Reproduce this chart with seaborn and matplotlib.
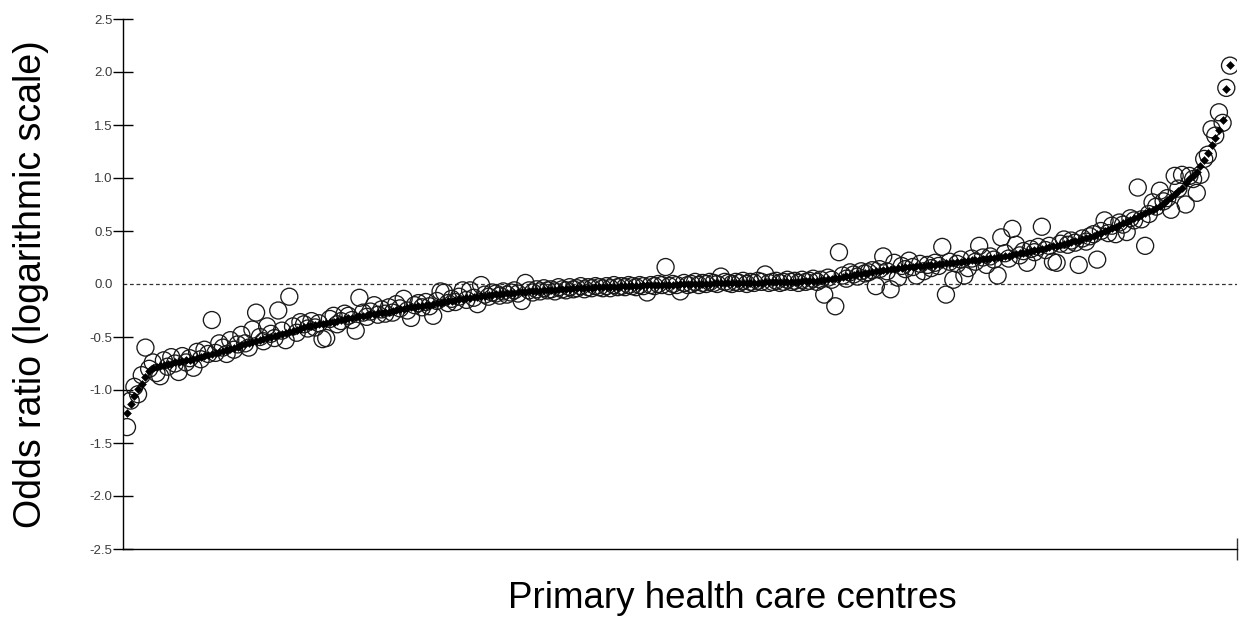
import numpy as np
import pandas as pd
import matplotlib
matplotlib.use("Agg")
import matplotlib.pyplot as plt
import seaborn as sns

# Shrunken (fitted) log odds ratios per centre, sorted
fitted = [
    -1.22, -1.13, -1.06, -0.99, -0.94, -0.88, -0.82, -0.79, -0.78, -0.77,
    -0.76, -0.755, -0.75, -0.74, -0.735, -0.73, -0.72, -0.715, -0.71, -0.70,
    -0.69, -0.68, -0.67, -0.66, -0.65, -0.64, -0.63, -0.62, -0.61, -0.60,
    -0.59, -0.58, -0.57, -0.56, -0.55, -0.54, -0.53, -0.52, -0.51, -0.50,
    -0.49, -0.48, -0.47, -0.46, -0.45, -0.44, -0.43, -0.42, -0.41, -0.40,
    -0.395, -0.39, -0.38, -0.375, -0.37, -0.36, -0.355, -0.35, -0.34, -0.33,
    -0.325, -0.32, -0.31, -0.305, -0.30, -0.29, -0.285, -0.28, -0.275, -0.27,
    -0.265, -0.26, -0.25, -0.245, -0.24, -0.235, -0.23, -0.22, -0.215, -0.21,
    -0.205, -0.20, -0.195, -0.19, -0.18, -0.175, -0.17, -0.165, -0.16, -0.15,
    -0.145, -0.14, -0.135, -0.13, -0.125, -0.12, -0.115, -0.11, -0.105, -0.10,
    -0.097, -0.094, -0.091, -0.088, -0.085, -0.082, -0.079, -0.076, -0.073, -0.07,
    -0.067, -0.065, -0.062, -0.06, -0.057, -0.055, -0.052, -0.05, -0.047, -0.045,
    -0.043, -0.042, -0.040, -0.039, -0.037, -0.036, -0.034, -0.033, -0.031, -0.030,
    -0.028, -0.027, -0.025, -0.024, -0.022, -0.021, -0.019, -0.018, -0.016, -0.015,
    -0.014, -0.013, -0.012, -0.011, -0.010, -0.009, -0.008, -0.007, -0.006, -0.005,
    -0.004, -0.003, -0.002, -0.001, 0.0, 0.001, 0.002, 0.003, 0.004, 0.005,
    0.006, 0.006, 0.007, 0.008, 0.008, 0.009, 0.010, 0.010, 0.011, 0.012,
    0.013, 0.013, 0.014, 0.015, 0.016, 0.016, 0.017, 0.018, 0.019, 0.020,
    0.021, 0.022, 0.023, 0.025, 0.027, 0.029, 0.031, 0.033, 0.036, 0.040,
    0.045, 0.050, 0.055, 0.060, 0.066, 0.072, 0.078, 0.084, 0.090, 0.096,
    0.102, 0.108, 0.114, 0.120, 0.126, 0.131, 0.136, 0.141, 0.146, 0.151,
    0.155, 0.158, 0.161, 0.164, 0.167, 0.170, 0.173, 0.176, 0.179, 0.182,
    0.186, 0.190, 0.194, 0.198, 0.202, 0.206, 0.210, 0.214, 0.218, 0.222,
    0.223, 0.228, 0.233, 0.238, 0.243, 0.248, 0.253, 0.258, 0.263, 0.268,
    0.275, 0.282, 0.289, 0.296, 0.303, 0.310, 0.317, 0.324, 0.331, 0.338,
    0.346, 0.354, 0.362, 0.370, 0.378, 0.386, 0.394, 0.402, 0.410, 0.420,
    0.432, 0.444, 0.456, 0.470, 0.484, 0.498, 0.512, 0.526, 0.540, 0.556,
    0.572, 0.588, 0.604, 0.620, 0.636, 0.652, 0.668, 0.684, 0.700, 0.718,
    0.740, 0.765, 0.79, 0.82, 0.85, 0.88, 0.91, 0.95, 0.99, 1.02,
    1.06, 1.11, 1.17, 1.24, 1.31, 1.38, 1.45, 1.55, 1.84, 2.07,
]

# Observed (crude) log odds ratios per centre, same order
observed = [
    -1.35, -1.10, -0.97, -1.04, -0.86, -0.60, -0.80, -0.74, -0.84, -0.87,
    -0.72, -0.78, -0.69, -0.75, -0.83, -0.68, -0.74, -0.70, -0.79, -0.64,
    -0.71, -0.62, -0.66, -0.34, -0.65, -0.56, -0.60, -0.66, -0.53, -0.62,
    -0.57, -0.48, -0.56, -0.60, -0.43, -0.27, -0.50, -0.54, -0.40, -0.47,
    -0.51, -0.25, -0.44, -0.53, -0.12, -0.40, -0.46, -0.36, -0.38, -0.42,
    -0.35, -0.41, -0.37, -0.52, -0.51, -0.33, -0.30, -0.38, -0.35, -0.28,
    -0.30, -0.34, -0.44, -0.13, -0.27, -0.31, -0.26, -0.20, -0.29, -0.24,
    -0.28, -0.22, -0.27, -0.19, -0.23, -0.14, -0.25, -0.32, -0.20, -0.18,
    -0.22, -0.17, -0.21, -0.30, -0.16, -0.07, -0.08, -0.18, -0.14, -0.17,
    -0.12, -0.06, -0.15, -0.06, -0.13, -0.19, -0.01, -0.10, -0.12, -0.08,
    -0.09, -0.11, -0.07, -0.10, -0.08, -0.06, -0.09, -0.16, 0.01, -0.06,
    -0.08, -0.05, -0.07, -0.04, -0.06, -0.05, -0.07, -0.03, -0.05, -0.06,
    -0.03, -0.05, -0.04, -0.02, -0.05, -0.03, -0.04, -0.02, -0.03, -0.04,
    -0.02, -0.04, -0.01, -0.03, -0.02, -0.03, -0.01, -0.02, -0.03, -0.01,
    -0.02, -0.08, -0.01, -0.02, 0.00, -0.01, 0.16, -0.02, 0.00, -0.01,
    -0.07, 0.01, -0.01, 0.00, 0.02, -0.01, 0.01, 0.00, 0.02, 0.01,
    0.00, 0.07, 0.02, 0.01, 0.00, 0.02, 0.01, 0.03, 0.00, 0.02,
    0.01, 0.03, 0.02, 0.09, 0.01, 0.02, 0.03, 0.01, 0.02, 0.04,
    0.02, 0.03, 0.01, 0.04, 0.02, 0.03, 0.05, 0.02, 0.04, -0.10,
    0.06, 0.04, -0.21, 0.30, 0.08, 0.05, 0.11, 0.09, 0.07, 0.12,
    0.10, 0.11, 0.13, -0.02, 0.14, 0.26, 0.12, -0.05, 0.20, 0.06,
    0.17, 0.14, 0.22, 0.16, 0.08, 0.19, 0.12, 0.18, 0.15, 0.20,
    0.17, 0.35, -0.10, 0.21, 0.04, 0.19, 0.23, 0.08, 0.15, 0.24,
    0.21, 0.36, 0.25, 0.18, 0.26, 0.23, 0.08, 0.44, 0.29, 0.24,
    0.52, 0.37, 0.27, 0.31, 0.20, 0.33, 0.30, 0.35, 0.54, 0.32,
    0.36, 0.21, 0.20, 0.38, 0.42, 0.37, 0.41, 0.39, 0.18, 0.43,
    0.40, 0.45, 0.47, 0.23, 0.50, 0.60, 0.48, 0.55, 0.47, 0.58,
    0.56, 0.49, 0.62, 0.60, 0.91, 0.61, 0.36, 0.66, 0.77, 0.73,
    0.88, 0.78, 0.81, 0.70, 1.02, 0.90, 1.03, 0.75, 1.02, 0.99,
    0.86, 1.03, 1.18, 1.22, 1.46, 1.40, 1.62, 1.52, 1.85, 2.06,
]

y_ticks = [2.5, 2.0, 1.5, 1.0, 0.5, 0.0, -0.5, -1.0, -1.5, -2.0, -2.5]
y_tick_labels = ["2.5", "2.0", "1.5", "1.0", "0.5", "0.0",
                 "-0.5", "-1.0", "-1.5", "-2.0", "-2.5"]
x_label = "Primary health care centres"
y_label = "Odds ratio (logarithmic scale)"

sns.set_style("white")
plt.rcParams['font.family'] = ['Liberation Sans', 'DejaVu Sans']

rank = np.arange(1, len(fitted) + 1)
df = pd.DataFrame({"rank": rank, "fitted": fitted, "observed": observed})

W, H = 1242, 627
fig = plt.figure(figsize=(W / 100, H / 100), dpi=100)
ax = fig.add_axes([123 / W, 78 / H, 1114 / W, 530 / H])

sns.scatterplot(data=df, x="rank", y="observed", ax=ax, marker="o", s=150,
                facecolors="none", edgecolor="#1a1a1a", linewidth=0.95,
                zorder=2, legend=False)
sns.scatterplot(data=df, x="rank", y="fitted", ax=ax, marker="D", s=16,
                color="black", edgecolor="black", linewidth=0.4,
                zorder=3, legend=False)

n = len(fitted)
step = 1103 / (n - 1)
x_left = 1 - 4 / step
x_right = n + 7 / step
ax.set_xlim(x_left, x_right)
ax.set_ylim(-2.5, 2.5)

ax.axhline(0, color="#333333", lw=0.9, ls=(0, (3.0, 2.2)), zorder=1)

for side in ["top", "right"]:
    ax.spines[side].set_visible(False)
for side in ["left", "bottom"]:
    ax.spines[side].set_color("black")
    ax.spines[side].set_linewidth(1.0)

ax.set_yticks(y_ticks)
ax.set_yticklabels(y_tick_labels)
ax.tick_params(axis="y", direction="inout", length=14.4, width=1.0,
               color="black", labelcolor="#3a3a3a", labelsize=9.5, pad=0.3,
               left=True)
for t, v in zip(ax.yaxis.get_major_ticks(), y_ticks):
    if v == 0.0:
        t.tick1line.set_visible(False)

ax.set_xticks([x_right])
ax.set_xticklabels([""])
ax.tick_params(axis="x", direction="inout", length=16.5, width=1.0,
               color="#333333", bottom=True)

ax.set_xlabel("")
ax.set_ylabel("")
fig.text(732 / W, 1 - 598 / H, x_label, ha="center", va="center",
         fontsize=26.5, color="black")
fig.text(31 / W, 1 - 284 / H, y_label, ha="center", va="center",
         rotation=90, fontsize=27, color="black")

fig.savefig("out.png", dpi=100)
